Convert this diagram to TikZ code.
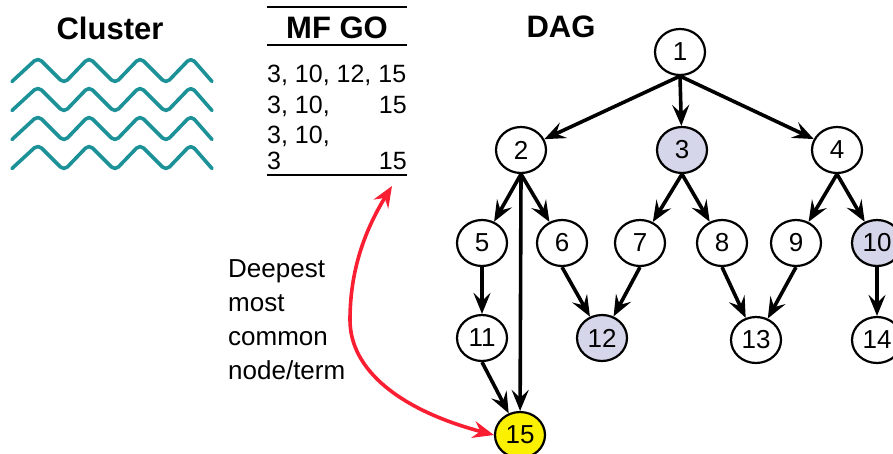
\documentclass[tikz,border=0pt]{standalone}
\usepackage{fontspec}
\setmainfont{Liberation Sans}
\usetikzlibrary{arrows.meta,shapes.geometric}
\definecolor{lav}{RGB}{214,214,234}
\definecolor{yel}{RGB}{250,240,0}
\definecolor{teal1}{RGB}{28,146,152}
\definecolor{redarr}{RGB}{250,30,50}
\begin{document}
\begin{tikzpicture}[x=1pt,y=-1pt,
  dnode/.style={ellipse, draw, line width=2.2pt, minimum width=50pt, minimum height=46pt, inner sep=0pt, font=\fontsize{26}{26}\selectfont, fill=white},
  hl/.style={fill=lav},
  yl/.style={fill=yel},
  edge/.style={line width=3.6pt, -{Stealth[length=21pt,width=17pt,inset=8pt]}},
  title/.style={font=\bfseries\fontsize{31}{31}\selectfont, inner sep=0pt, anchor=base},
  tab/.style={font=\fontsize{25}{25}\selectfont, inner sep=0pt},
  wave/.style={teal1, line width=3.6pt, line cap=round, line join=round, rounded corners=5pt},
  rule/.style={line width=2.2pt}
]
\useasboundingbox (0,0) rectangle (893,453);
\fill[white] (0,0) rectangle (893,453);

% titles
\node[title] (tcl) at (110,39) {Cluster};
\node[title] (tmf) at (337,38) {MF GO};
\node[title] (tdag) at (561,37) {DAG};

% waves
\foreach \yc in {70.5,99.5,128.5,157.5}{
  \draw[wave] (12,\yc+11) -- (38,\yc-13) -- (64,\yc+13) -- (89,\yc-13) -- (115,\yc+13)
    -- (140,\yc-13) -- (166,\yc+13) -- (191,\yc-13) -- (212,\yc+11);
}

% table
\draw[rule] (267,7) -- (407,7);
\draw[rule] (267,45) -- (407,45);
\draw[rule] (267,175) -- (407,175);
\coordinate (tabbot) at (392,186);
\node[tab, anchor=base west] (r1) at (267,82) {3, 10, 12, 15};
\node[tab, anchor=base west] (r2a) at (267,113) {3, 10,};
\node[tab, anchor=base east] (r2b) at (407,113) {15};
\node[tab, anchor=base west] (r3) at (267,143) {3, 10,};
\node[tab, anchor=base west] (r4a) at (267,169) {3};
\node[tab, anchor=base east] (r4b) at (407,169) {15};

% label
\node[font=\fontsize{26}{34}\selectfont, align=left, anchor=base west, inner sep=0pt] (lbl) at (228,379) {Deepest\\most\\common\\node/term};

% DAG nodes
\node[dnode] (n1) at (680,52) {1};
\node[dnode] (n2) at (521,150) {2};
\node[dnode, hl] (n3) at (682,150) {3};
\node[dnode] (n4) at (837,150) {4};
\node[dnode] (n5) at (482,243) {5};
\node[dnode] (n6) at (562,243) {6};
\node[dnode] (n7) at (640,243) {7};
\node[dnode] (n8) at (722,243) {8};
\node[dnode] (n9) at (796,243) {9};
\node[dnode, hl] (n10) at (877,243) {10};
\node[dnode] (n11) at (482,338) {11};
\node[dnode, hl] (n12) at (602,338) {12};
\node[dnode] (n13) at (756,340) {13};
\node[dnode] (n14) at (877,340) {14};
\node[dnode, yl] (n15) at (520,435) {15};

% edges
\draw[edge] (n1.south) -- (n2);
\draw[edge] (n1.south) -- (n3);
\draw[edge] (n1.south) -- (n4);
\draw[edge] (n2.south) -- (n5);
\draw[edge] (n2.south) -- (n6);
\draw[edge] (n2.south) -- (n15);
\draw[edge] (n3.south) -- (n7);
\draw[edge] (n3.south) -- (n8);
\draw[edge] (n4.south) -- (n9);
\draw[edge] (n4.south) -- (n10);
\draw[edge] (n5.south) -- (n11);
\draw[edge] (n6.south) -- (n12);
\draw[edge] (n7.south) -- (n12);
\draw[edge] (n8.south) -- (n13);
\draw[edge] (n9.south) -- (n13);
\draw[edge] (n10.south) -- (n14);
\draw[edge] (n11.south) -- (n15);

% red arrow
\draw[redarr, line width=3.6pt, {Stealth[length=21pt,width=17pt,inset=7pt]}-{Stealth[length=21pt,width=17pt,inset=7pt]}]
  (tabbot) .. controls (365,230) and (350,270) .. (350,320)
  .. controls (350,370) and (400,410) .. (n15.west);
\end{tikzpicture}
\end{document}
